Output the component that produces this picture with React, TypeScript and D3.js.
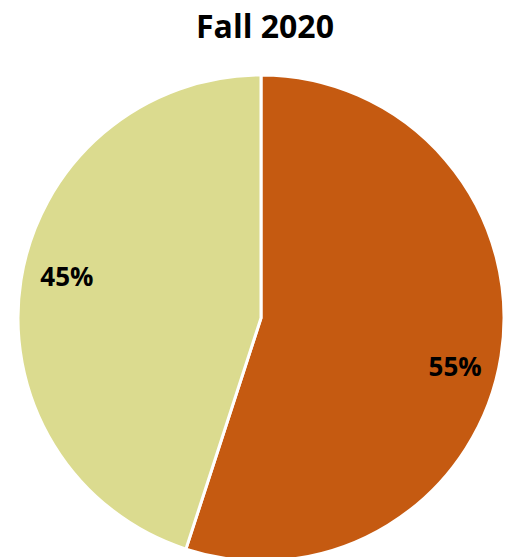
import * as d3 from "d3";
import React, {useEffect, useRef} from "react";

const categories = ["Group A", "Group B"];
const values = [55, 45];
const colors = ["#C55A11", "#DBDB8F"];
const title = "Fall 2020";

const width = 507;
const height = 557;

const App: React.FC = () => {
  const ref = useRef<SVGSVGElement | null>(null);

  useEffect(() => {
    const svg = d3.select(ref.current);
    svg.selectAll('*').remove();

    svg.attr("width", width).attr("height", height);

    const cx = 261;
    const cy = 318;
    const radius = 243;

    svg
      .append('text')
      .attr('x', 265)
      .attr('y', 38)
      .attr('text-anchor', 'middle')
      .style('font-family', '"Open Sans", sans-serif')
      .style('font-weight', 'bold')
      .style('font-size', '32px')
      .attr('fill', '#000')
      .text(title);

    const pie = d3.pie<number>().sort(null).value((d) => d);
    const arcs = pie(values);
    const arc = d3.arc<d3.PieArcDatum<number>>().innerRadius(0).outerRadius(radius);

    const g = svg.append('g').attr('transform', `translate(${cx}, ${cy})`);

    g.selectAll('path')
      .data(arcs)
      .enter()
      .append('path')
      .attr('d', arc)
      .attr('fill', (_, i) => colors[i])
      .attr('stroke', 'white')
      .attr('stroke-width', 3);

    // labels sit a bit past the middle of each slice
    const labelR = radius * 0.82;
    const shift = (4 * Math.PI) / 180;
    const total = d3.sum(values);

    g.selectAll('.label')
      .data(arcs)
      .enter()
      .append('text')
      .attr('class', 'label')
      .attr('x', (d) => labelR * Math.sin((d.startAngle + d.endAngle) / 2 + shift))
      .attr('y', (d) => 4 - labelR * Math.cos((d.startAngle + d.endAngle) / 2 + shift))
      .attr('dy', '0.35em')
      .attr('text-anchor', 'middle')
      .style('font-family', '"Open Sans", sans-serif')
      .style('font-weight', 'bold')
      .style('font-size', '26px')
      .attr('fill', '#000')
      .text((d) => `${Math.round((d.data / total) * 100)}%`);

    return () => {
      svg.selectAll('*').remove();
    };
  }, []);

  return (
    <svg
      ref={ref}
      aria-label={categories.join(', ')}
      style={{position: 'absolute', left: 0, top: 0, display: 'block'}}
    />
  );
};

export default App;
